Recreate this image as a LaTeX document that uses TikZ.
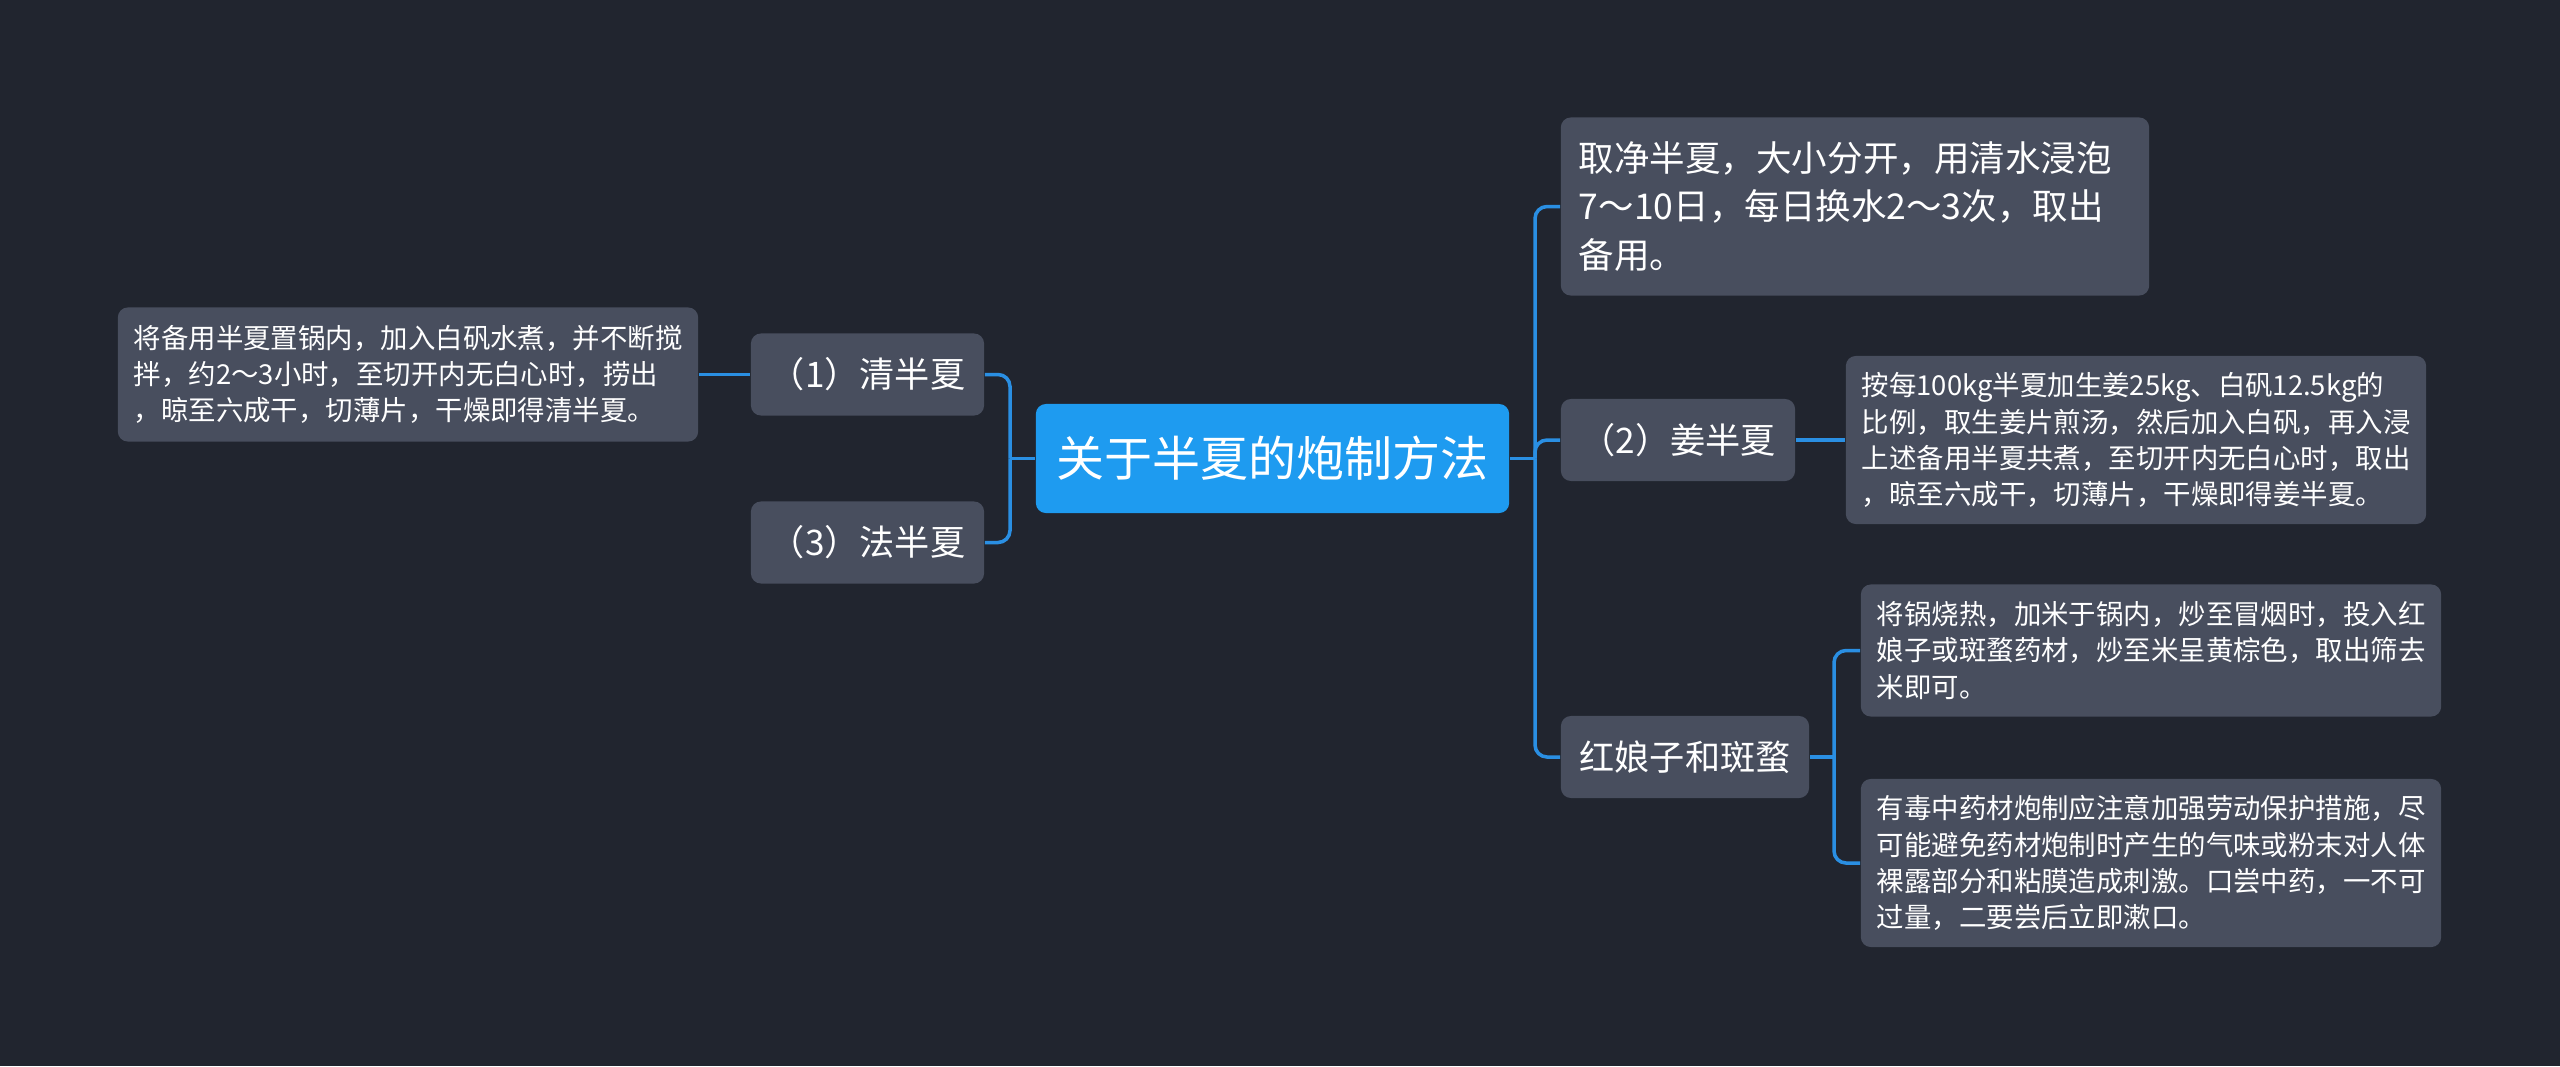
\documentclass[tikz,border=0pt]{standalone}
\usepackage{fontspec}
\setmainfont{Noto Sans CJK SC}
\definecolor{bgcol}{HTML}{21252F}
\definecolor{boxcol}{HTML}{484E5E}
\definecolor{rootcol}{HTML}{1E9BF0}
\definecolor{linkcol}{HTML}{2A8FE3}
\begin{document}
\begin{tikzpicture}[x=0.01cm,y=-0.01cm,
				root/.style={fill=rootcol,rounded corners=0.1cm,text=white,inner sep=0,
					font=\fontsize{13.65}{16}\selectfont,minimum width=4.73cm,minimum height=1.09cm},
				topic/.style={fill=boxcol,rounded corners=0.1cm,text=white,inner sep=0,
					font=\fontsize{10}{12}\selectfont,minimum height=0.82cm},
				leaf/.style={fill=boxcol,rounded corners=0.1cm,text=white,align=left,
					inner xsep=0.16cm,inner ysep=0,text width=5.48cm,
					font=\fontsize{7.8}{10.3}\selectfont},
				link/.style={draw=linkcol,line width=1pt,rounded corners=0.12cm}]
				\fill[bgcol] (0,0) rectangle (2560,1066);
				\node[root] (root) at (1272.5,458.5) {关于半夏的炮制方法};
				\node[topic,minimum width=2.33cm] (qing) at (867.5,374.5) {（1）清半夏};
				\node[topic,minimum width=2.33cm] (fa) at (867.5,542.5) {（3）法半夏};
				\node[leaf,minimum height=1.34cm] (qingleaf) at (408,374.5)
					{将备用半夏置锅内，加入白矾水煮，并不断搅\\拌，约2～3小时，至切开内无白心时，捞出\\，晾至六成干，切薄片，干燥即得清半夏。};
				\node[leaf,minimum height=1.78cm,text width=5.52cm,inner xsep=0.18cm,
					font=\fontsize{10.1}{13.7}\selectfont] (soak) at (1855,206.5)
					{取净半夏，大小分开，用清水浸泡\\7～10日，每日换水2～3次，取出\\备用。};
				\node[topic,minimum width=2.34cm] (jiang) at (1678,440) {（2）姜半夏};
				\node[leaf,minimum height=1.68cm] (jiangleaf) at (2136,440)
					{按每100kg半夏加生姜25kg、白矾12.5kg的\\比例，取生姜片煎汤，然后加入白矾，再入浸\\上述备用半夏共煮，至切开内无白心时，取出\\，晾至六成干，切薄片，干燥即得姜半夏。};
				\node[topic,minimum width=2.48cm] (hong) at (1685,757) {红娘子和斑蝥};
				\node[leaf,minimum height=1.32cm] (hongleafa) at (2151,650.5)
					{将锅烧热，加米于锅内，炒至冒烟时，投入红\\娘子或斑蝥药材，炒至米呈黄棕色，取出筛去\\米即可。};
				\node[leaf,minimum height=1.68cm] (hongleafb) at (2151,863)
					{有毒中药材炮制应注意加强劳动保护措施，尽\\可能避免药材炮制时产生的气味或粉末对人体\\裸露部分和粘膜造成刺激。口尝中药，一不可\\过量，二要尝后立即漱口。};
				\coordinate (lj) at (1010,458.5);
				\coordinate (rj) at (1535,458.5);
				\coordinate (hj) at (1834,757);
				\draw[link] (root.west) -- (lj);
				\draw[link] (lj) |- (qing.east);
				\draw[link] (lj) |- (fa.east);
				\draw[link] (qingleaf.east) -- (qing.west);
				\draw[link] (root.east) -- (rj);
				\draw[link] (rj) |- (soak.west);
				\draw[link] (rj) |- (jiang.west);
				\draw[link] (rj) |- (hong.west);
				\draw[link] (jiang.east) -- (jiangleaf.west);
				\draw[link] (hong.east) -- (hj);
				\draw[link] (hj) |- (hongleafa.west);
				\draw[link] (hj) |- (hongleafb.west);
			\end{tikzpicture}
\end{document}
